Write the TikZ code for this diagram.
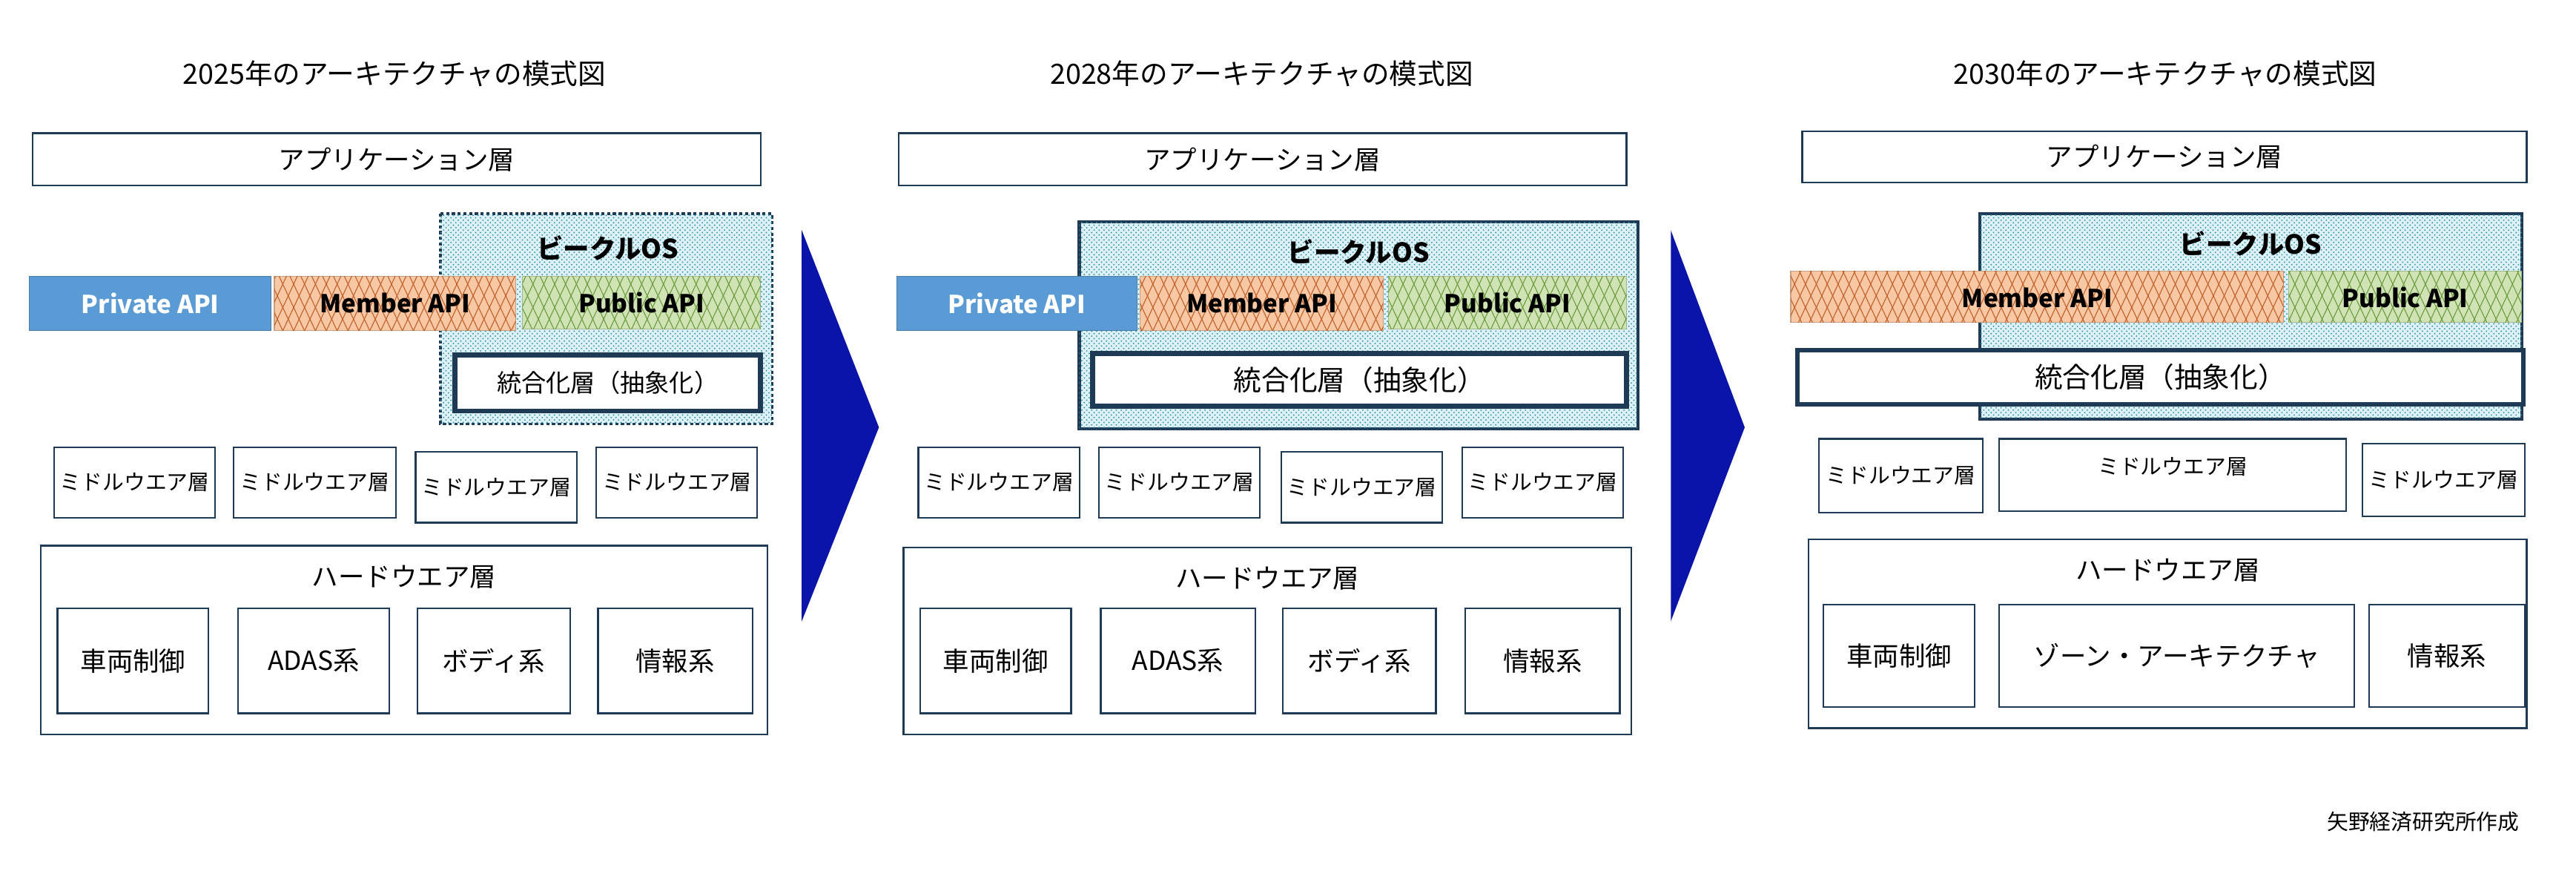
\documentclass[tikz,border=0pt]{standalone}
\usepackage{fontspec}
\setmainfont{Noto Sans CJK JP}
\usetikzlibrary{patterns,patterns.meta}
\definecolor{bd}{HTML}{1F3A55}
\definecolor{osfill}{HTML}{DDF1F6}
\definecolor{osdot}{HTML}{3E9AAE}
\definecolor{orf}{HTML}{F8C8A4}
\definecolor{orl}{HTML}{C0602A}
\definecolor{grf}{HTML}{CFE3B4}
\definecolor{grl}{HTML}{6E9A40}
\definecolor{priv}{HTML}{5B9BD5}
\definecolor{arr}{HTML}{0A14A8}
\tikzset{
  box/.style={draw=bd,line width=1pt,fill=white,inner sep=0},
  ttl/.style={font=\fontsize{17}{17}\selectfont},
  bt/.style={font=\fontsize{16}{16}\selectfont},
  mw/.style={font=\fontsize{13}{13}\selectfont},
  api/.style={font=\fontsize{15}{15}\selectfont\bfseries},
  os/.style={fill=osfill,postaction={pattern=crosshatch dots,pattern color=osdot}},
  hatch/.style={postaction={pattern={Lines[angle=65,distance=6pt,line width=0.5pt]},pattern color=#1},
                postaction={pattern={Lines[angle=-65,distance=6pt,line width=0.5pt]},pattern color=#1}},
  mem/.style={fill=orf,draw=orf!80!black,line width=0.5pt,hatch=orl},
  pub/.style={fill=grf,draw=grf!80!black,line width=0.5pt,hatch=grl},
  pri/.style={fill=priv,draw=priv!80!black,line width=0.5pt},
  integ/.style={draw=bd,line width=3pt,fill=white},
  arrow/.style={fill=arr,draw=none}
}
\begin{document}
\begin{tikzpicture}[x=1pt,y=-1pt]
\useasboundingbox (0,0) rectangle (1568,542);
% ---------- Panel 1 ----------
\node[ttl] (t1) at (240,45) {2025年のアーキテクチャの模式図};
\draw[box] (20,81) rectangle (463,113); \node[bt] (a1) at (241.5,97) {アプリケーション層};
\draw[os,draw=bd,line width=1.6pt,dash pattern=on 2pt off 1.5pt] (268,130) rectangle (470,258);
\node[bt,font=\fontsize{16}{16}\selectfont\bfseries] (v1) at (370,151) {ビークルOS};
\draw[pri] (18,168) rectangle (165,201); \node[api,white] (p1) at (91.5,184.5) {Private API};
\draw[mem] (167,168) rectangle (314,201); \node[api] (m1) at (240.5,184.5) {Member API};
\draw[pub] (318,168) rectangle (463,200); \node[api] (u1) at (390.5,184) {Public API};
\draw[integ] (277,216) rectangle (463,250); \node[bt,font=\fontsize{15}{15}\selectfont] (i1) at (370,233) {統合化層（抽象化）};
\foreach \xa/\xb/\ya/\yb [count=\k] in {33/131/272/315,142/241/272/315,253/351/275/318,363/461/272/315}{
  \draw[box] (\xa,\ya) rectangle (\xb,\yb); \node[mw] (mw1\k) at ({(\xa+\xb)/2},{(\ya+\yb)/2}) {ミドルウエア層};}
\draw[box] (25,332) rectangle (467,447); \node[bt] (h1) at (246,351) {ハードウエア層};
\foreach \xa/\xb/\tx [count=\k] in {35/127/車両制御,145/237/ADAS系,254/347/ボディ系,364/458/情報系}{
  \draw[box] (\xa,370) rectangle (\xb,434); \node[bt] (hw1\k) at ({(\xa+\xb)/2},402) {\tx};}
% arrow 1
\fill[arrow] (488,140) -- (535,260) -- (488,378) -- cycle;
% ---------- Panel 2 ----------
\node[ttl] (t2) at (768,45) {2028年のアーキテクチャの模式図};
\draw[box] (547,81) rectangle (990,113); \node[bt] (a2) at (768.5,97) {アプリケーション層};
\draw[os,draw=bd,line width=2pt] (657,135) rectangle (997,261);
\node[bt,font=\fontsize{16}{16}\selectfont\bfseries] (v2) at (827,153) {ビークルOS};
\draw[pri] (546,168) rectangle (692,201); \node[api,white] (p2) at (619,184.5) {Private API};
\draw[mem] (694,168) rectangle (842,201); \node[api] (m2) at (768,184.5) {Member API};
\draw[pub] (845,168) rectangle (990,200); \node[api] (u2) at (917.5,184) {Public API};
\draw[integ] (665,215) rectangle (990,247); \node[bt,font=\fontsize{17}{17}\selectfont] (i2) at (827.5,231) {統合化層（抽象化）};
\foreach \xa/\xb/\ya/\yb [count=\k] in {559/657/272/315,669/767/272/315,780/878/275/318,890/988/272/315}{
  \draw[box] (\xa,\ya) rectangle (\xb,\yb); \node[mw] (mw2\k) at ({(\xa+\xb)/2},{(\ya+\yb)/2}) {ミドルウエア層};}
\draw[box] (550,333) rectangle (993,447); \node[bt] (h2) at (771.5,352) {ハードウエア層};
\foreach \xa/\xb/\tx [count=\k] in {560/652/車両制御,670/764/ADAS系,781/874/ボディ系,892/986/情報系}{
  \draw[box] (\xa,370) rectangle (\xb,434); \node[bt] (hw2\k) at ({(\xa+\xb)/2},402) {\tx};}
% arrow 2
\fill[arrow] (1017,140) -- (1062,260) -- (1017,378) -- cycle;
% ---------- Panel 3 ----------
\node[ttl] (t3) at (1318,45) {2030年のアーキテクチャの模式図};
\draw[box] (1097,80) rectangle (1538,111); \node[bt] (a3) at (1317.5,95.5) {アプリケーション層};
\draw[os,draw=bd,line width=2pt] (1205,130) rectangle (1535,255);
\node[bt,font=\fontsize{16}{16}\selectfont\bfseries] (v3) at (1370,148) {ビークルOS};
\draw[mem] (1090,165) rectangle (1390,196); \node[api] (m3) at (1240,181) {Member API};
\draw[pub] (1393,165) rectangle (1535,196); \node[api] (u3) at (1464,181) {Public API};
\draw[integ] (1094,213) rectangle (1536,246); \node[bt,font=\fontsize{17}{17}\selectfont] (i3) at (1315,229.5) {統合化層（抽象化）};
\foreach \xa/\xb/\ya/\yb/\ty [count=\k] in {1107/1207/267/312/289.5,1217/1428/267/311/284,1438/1537/270/314/292}{
  \draw[box] (\xa,\ya) rectangle (\xb,\yb); \node[mw] (mw3\k) at ({(\xa+\xb)/2},\ty) {ミドルウエア層};}
\draw[box] (1101,328) rectangle (1538,443); \node[bt] (h3) at (1319.5,347) {ハードウエア層};
\foreach \xa/\xb/\tx [count=\k] in {1110/1202/車両制御,1217/1433/ゾーン・アーキテクチャ,1442/1537/情報系}{
  \draw[box] (\xa,368) rectangle (\xb,430); \node[bt] (hw3\k) at ({(\xa+\xb)/2},399) {\tx};}
\node[font=\fontsize{13}{13}\selectfont,anchor=east] (cr) at (1537,500) {矢野経済研究所作成};
\end{tikzpicture}
\end{document}
